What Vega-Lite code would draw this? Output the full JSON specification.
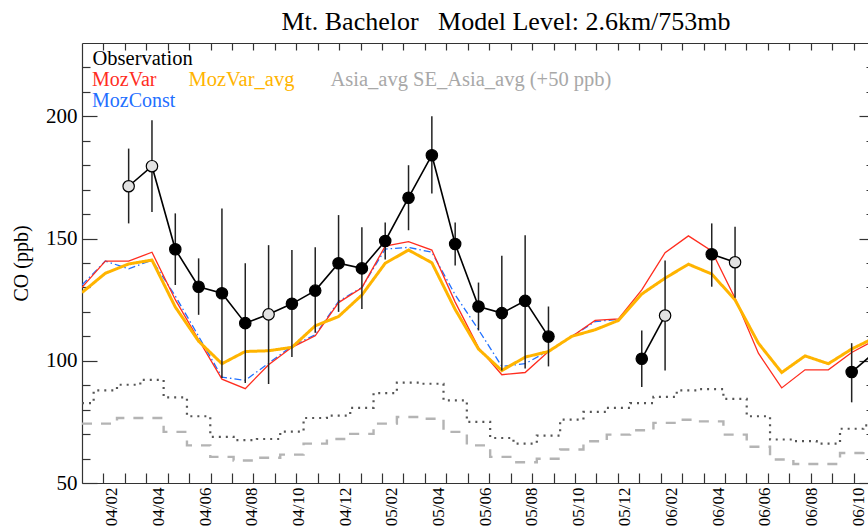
{
  "$schema": "https://vega.github.io/schema/vega-lite/v6.json",
  "width": 786,
  "height": 440,
  "autosize": "none",
  "padding": {"left": 82, "top": 43, "right": 0, "bottom": 44},
  "background": "white",
  "title": {
    "text": "Mt. Bachelor\u00a0\u00a0\u00a0Model Level: 2.6km/753mb",
    "font": "Liberation Serif",
    "fontSize": 26,
    "fontWeight": "normal",
    "color": "black",
    "anchor": "middle",
    "baseline": "alphabetic",
    "offset": 13,
    "dy": 27,
    "dx": 31
  },
  "config": {
    "view": {"stroke": null},
    "axis": {"grid": false, "labelFont": "Liberation Serif", "titleFont": "Liberation Serif", "labelColor": "black", "titleColor": "black", "domainColor": "#333333", "tickColor": "#333333", "domainWidth": 1.2, "tickWidth": 1.2}
  },
  "datasets": {
    "models": [
      {"t": 0, "MozVar": 130.0, "MozConst": 131.0, "MozVar_avg": 127.9, "Asia_avg": 82.7, "SE_Asia_avg": 74.3},
      {"t": 1, "MozVar": 140.8, "MozConst": 140.8, "MozVar_avg": 135.8, "Asia_avg": 87.9, "SE_Asia_avg": 74.3},
      {"t": 2, "MozVar": 140.8, "MozConst": 137.6, "MozVar_avg": 139.6, "Asia_avg": 90.2, "SE_Asia_avg": 76.6},
      {"t": 3, "MozVar": 144.4, "MozConst": 141.2, "MozVar_avg": 141.2, "Asia_avg": 92.2, "SE_Asia_avg": 76.6},
      {"t": 4, "MozVar": 125.0, "MozConst": 126.5, "MozVar_avg": 122.0, "Asia_avg": 85.0, "SE_Asia_avg": 70.9},
      {"t": 5, "MozVar": 108.6, "MozConst": 110.0, "MozVar_avg": 108.0, "Asia_avg": 77.3, "SE_Asia_avg": 65.4},
      {"t": 6, "MozVar": 92.5, "MozConst": 93.3, "MozVar_avg": 98.8, "Asia_avg": 68.9, "SE_Asia_avg": 60.7},
      {"t": 7, "MozVar": 88.6, "MozConst": 92.0, "MozVar_avg": 103.8, "Asia_avg": 67.5, "SE_Asia_avg": 59.2},
      {"t": 8, "MozVar": 98.4, "MozConst": 99.0, "MozVar_avg": 104.1, "Asia_avg": 68.0, "SE_Asia_avg": 60.3},
      {"t": 9, "MozVar": 105.5, "MozConst": 106.0, "MozVar_avg": 105.5, "Asia_avg": 71.0, "SE_Asia_avg": 61.6},
      {"t": 10, "MozVar": 110.2, "MozConst": 110.6, "MozVar_avg": 114.3, "Asia_avg": 76.6, "SE_Asia_avg": 66.1},
      {"t": 11, "MozVar": 123.8, "MozConst": 124.3, "MozVar_avg": 118.1, "Asia_avg": 77.6, "SE_Asia_avg": 68.0},
      {"t": 12, "MozVar": 129.9, "MozConst": 130.0, "MozVar_avg": 126.9, "Asia_avg": 80.7, "SE_Asia_avg": 70.1},
      {"t": 13, "MozVar": 146.9, "MozConst": 145.7, "MozVar_avg": 139.9, "Asia_avg": 86.8, "SE_Asia_avg": 74.3},
      {"t": 14, "MozVar": 148.7, "MozConst": 146.4, "MozVar_avg": 145.3, "Asia_avg": 91.1, "SE_Asia_avg": 77.0},
      {"t": 15, "MozVar": 145.3, "MozConst": 144.4, "MozVar_avg": 140.1, "Asia_avg": 90.6, "SE_Asia_avg": 76.3},
      {"t": 16, "MozVar": 124.0, "MozConst": 127.0, "MozVar_avg": 121.0, "Asia_avg": 83.8, "SE_Asia_avg": 70.9},
      {"t": 17, "MozVar": 105.4, "MozConst": 112.7, "MozVar_avg": 104.8, "Asia_avg": 75.0, "SE_Asia_avg": 65.4},
      {"t": 18, "MozVar": 94.3, "MozConst": 97.7, "MozVar_avg": 96.0, "Asia_avg": 68.4, "SE_Asia_avg": 60.7},
      {"t": 19, "MozVar": 95.2, "MozConst": 98.8, "MozVar_avg": 101.5, "Asia_avg": 66.1, "SE_Asia_avg": 58.5},
      {"t": 20, "MozVar": 103.8, "MozConst": 104.0, "MozVar_avg": 103.8, "Asia_avg": 69.4, "SE_Asia_avg": 59.9},
      {"t": 21, "MozVar": 109.9, "MozConst": 110.0, "MozVar_avg": 110.0, "Asia_avg": 75.9, "SE_Asia_avg": 63.7},
      {"t": 22, "MozVar": 116.5, "MozConst": 116.0, "MozVar_avg": 112.7, "Asia_avg": 79.1, "SE_Asia_avg": 67.1},
      {"t": 23, "MozVar": 117.1, "MozConst": 117.0, "MozVar_avg": 116.5, "Asia_avg": 80.7, "SE_Asia_avg": 69.8},
      {"t": 24, "MozVar": 129.0, "MozConst": null, "MozVar_avg": 127.3, "Asia_avg": 82.7, "SE_Asia_avg": 71.6},
      {"t": 25, "MozVar": 144.2, "MozConst": null, "MozVar_avg": 133.8, "Asia_avg": 85.2, "SE_Asia_avg": 74.6},
      {"t": 26, "MozVar": 151.1, "MozConst": null, "MozVar_avg": 139.5, "Asia_avg": 87.9, "SE_Asia_avg": 75.9},
      {"t": 27, "MozVar": 144.9, "MozConst": null, "MozVar_avg": 135.5, "Asia_avg": 88.4, "SE_Asia_avg": 75.2},
      {"t": 28, "MozVar": 125.6, "MozConst": null, "MozVar_avg": 124.9, "Asia_avg": 84.4, "SE_Asia_avg": 69.8},
      {"t": 29, "MozVar": 103.1, "MozConst": null, "MozVar_avg": 107.2, "Asia_avg": 77.3, "SE_Asia_avg": 64.8},
      {"t": 30, "MozVar": 88.9, "MozConst": null, "MozVar_avg": 95.2, "Asia_avg": 67.8, "SE_Asia_avg": 59.6},
      {"t": 31, "MozVar": 96.3, "MozConst": null, "MozVar_avg": 102.0, "Asia_avg": 67.1, "SE_Asia_avg": 57.8},
      {"t": 32, "MozVar": 96.3, "MozConst": null, "MozVar_avg": 98.8, "Asia_avg": 66.1, "SE_Asia_avg": 57.8},
      {"t": 33, "MozVar": 103.4, "MozConst": null, "MozVar_avg": 104.8, "Asia_avg": 72.2, "SE_Asia_avg": 62.3},
      {"t": 34, "MozVar": 108.5, "MozConst": null, "MozVar_avg": 109.5, "Asia_avg": 73.6, "SE_Asia_avg": 64.4}
    ],
    "obs": [
      {"t": 2, "co": 171.4, "lo": 156.2, "hi": 186.8, "kind": "open", "seg": 1, "src": "Observation"},
      {"t": 3, "co": 179.6, "lo": 160.9, "hi": 198.4, "kind": "open", "seg": 1, "src": "Observation"},
      {"t": 4, "co": 145.6, "lo": 131.0, "hi": 160.3, "kind": "filled", "seg": 1, "src": "Observation"},
      {"t": 5, "co": 130.3, "lo": 118.8, "hi": 141.9, "kind": "filled", "seg": 1, "src": "Observation"},
      {"t": 6, "co": 127.6, "lo": 93.0, "hi": 162.3, "kind": "filled", "seg": 1, "src": "Observation"},
      {"t": 7, "co": 115.4, "lo": 90.9, "hi": 139.9, "kind": "filled", "seg": 1, "src": "Observation"},
      {"t": 8, "co": 119.0, "lo": 90.5, "hi": 147.3, "kind": "open", "seg": 1, "src": "Observation"},
      {"t": 9, "co": 123.3, "lo": 101.5, "hi": 145.3, "kind": "filled", "seg": 1, "src": "Observation"},
      {"t": 10, "co": 128.7, "lo": 111.5, "hi": 146.4, "kind": "filled", "seg": 1, "src": "Observation"},
      {"t": 11, "co": 139.9, "lo": 120.0, "hi": 159.6, "kind": "filled", "seg": 1, "src": "Observation"},
      {"t": 12, "co": 137.8, "lo": 121.2, "hi": 154.6, "kind": "filled", "seg": 1, "src": "Observation"},
      {"t": 13, "co": 149.0, "lo": 141.4, "hi": 156.6, "kind": "filled", "seg": 1, "src": "Observation"},
      {"t": 14, "co": 166.7, "lo": 153.4, "hi": 180.0, "kind": "filled", "seg": 1, "src": "Observation"},
      {"t": 15, "co": 184.1, "lo": 168.4, "hi": 200.0, "kind": "filled", "seg": 1, "src": "Observation"},
      {"t": 16, "co": 147.8, "lo": 139.0, "hi": 156.6, "kind": "filled", "seg": 1, "src": "Observation"},
      {"t": 17, "co": 122.2, "lo": 112.4, "hi": 132.0, "kind": "filled", "seg": 1, "src": "Observation"},
      {"t": 18, "co": 119.5, "lo": 96.0, "hi": 143.0, "kind": "filled", "seg": 1, "src": "Observation"},
      {"t": 19, "co": 124.5, "lo": 96.8, "hi": 151.4, "kind": "filled", "seg": 1, "src": "Observation"},
      {"t": 20, "co": 109.9, "lo": 97.7, "hi": 122.2, "kind": "filled", "seg": 1, "src": "Observation"},
      {"t": 24, "co": 100.8, "lo": 89.3, "hi": 112.4, "kind": "filled", "seg": 2, "src": "Observation"},
      {"t": 25, "co": 118.5, "lo": 96.0, "hi": 141.0, "kind": "open", "seg": 2, "src": "Observation"},
      {"t": 27, "co": 143.6, "lo": 130.3, "hi": 156.2, "kind": "filled", "seg": 3, "src": "Observation"},
      {"t": 28, "co": 140.3, "lo": 125.8, "hi": 154.8, "kind": "open", "seg": 3, "src": "Observation"},
      {"t": 33, "co": 95.4, "lo": 83.0, "hi": 107.2, "kind": "filled", "seg": 4, "src": "Observation"},
      {"t": 34, "co": 103.5, "lo": 91.5, "hi": 115.5, "kind": "filled", "seg": 4, "src": "Observation"}
    ]
  },
  "resolve": {"axis": {"x": "independent", "y": "independent"}},
  "layer": [
    {
      "data": {"name": "models"},
      "transform": [{"fold": ["Asia_avg"], "as": ["series", "co"]}],
      "mark": {"type": "line", "interpolate": "step", "color": "#555555", "strokeWidth": 2.2, "clip": true},
      "encoding": {
        "x": {"field": "t", "type": "quantitative", "scale": {"domain": [0, 33.7], "nice": false, "zero": false},
          "axis": {
            "orient": "bottom",
            "values": [0.9189, 1.8378, 2.7568, 3.6757, 4.5946, 5.5135, 6.4324, 7.3514, 8.2703, 9.1892, 10.1081, 11.027, 11.9459, 12.8649, 13.7838, 14.7027, 15.6216, 16.5405, 17.4595, 18.3784, 19.2973, 20.2162, 21.1351, 22.0541, 22.973, 23.8919, 24.8108, 25.7297, 26.6486, 27.5676, 28.4865, 29.4054, 30.3243, 31.2432, 32.1622, 33.0811, 1.28, 3.28, 5.28, 7.28, 9.28, 11.28, 13.28, 15.28, 17.28, 19.28, 21.28, 23.28, 25.28, 27.28, 29.28, 31.28, 33.28],
            "tickSize": {"condition": {"test": "abs(datum.value - floor(datum.value) - 0.28) < 0.001", "value": 0}, "value": -10},
            "labelExpr": "abs(datum.value - floor(datum.value) - 0.28) < 0.001 ? ['04/02','04/04','04/06','04/08','04/10','04/12','05/02','05/04','05/06','05/08','05/10','05/12','06/02','06/04','06/06','06/08','06/10'][floor(datum.value / 2)] : ''",
            "labelAngle": 270,
            "labelFontSize": 17,
            "labelPadding": 4,
            "labelOverlap": false,
            "labelFlush": false,
            "labelBound": false,
            "title": null
          }
        },
        "y": {"field": "co", "type": "quantitative", "scale": {"domain": [50, 230], "nice": false, "zero": false},
          "axis": {
            "orient": "left",
            "values": [50, 60, 70, 80, 90, 100, 110, 120, 130, 140, 150, 160, 170, 180, 190, 200, 210, 220],
            "tickSize": {"condition": {"test": "datum.value % 50 === 0", "value": -15}, "value": -8},
            "labelExpr": "datum.value % 50 === 0 ? datum.label : ''",
            "labelFontSize": 21,
            "labelPadding": 20,
            "labelOverlap": false,
            "labelFlush": false,
            "title": "CO (ppb)",
            "titleFontSize": 20,
            "titleFontWeight": "normal",
            "titlePadding": 14
          }
        },
        "strokeDash": {"field": "series", "type": "nominal",
          "scale": {"domain": ["MozVar_avg", "Asia_avg"], "range": [[1, 0], [2, 5]]},
          "legend": {
            "orient": "none", "legendX": 86, "legendY": 27, "title": null, "padding": 0,
            "direction": "horizontal", "columns": 2, "gridAlign": "each", "columnPadding": 15,
            "symbolSize": 0, "symbolOpacity": 0, "symbolStrokeWidth": 0, "labelOffset": 0,
            "labelExpr": "datum.value === 'Asia_avg' ? 'Asia_avg SE_Asia_avg (+50 ppb)' : datum.label",
            "labelFont": "Liberation Serif", "labelFontSize": 20.5, "labelLimit": 600,
            "labelColor": {"expr": "datum.value === 'MozVar_avg' ? '#ffb400' : '#a8a8a8'"}
          }
        }
      }
    },
    {
      "data": {"name": "models"},
      "mark": {"type": "line", "interpolate": "step", "color": "#b4b4b4", "strokeWidth": 2.4, "strokeDash": [10, 9], "clip": true},
      "encoding": {
        "x": {"field": "t", "type": "quantitative", "scale": {"domain": [0, 33.7], "nice": false, "zero": false},
          "axis": {
            "orient": "top",
            "values": [0.9189, 1.8378, 2.7568, 3.6757, 4.5946, 5.5135, 6.4324, 7.3514, 8.2703, 9.1892, 10.1081, 11.027, 11.9459, 12.8649, 13.7838, 14.7027, 15.6216, 16.5405, 17.4595, 18.3784, 19.2973, 20.2162, 21.1351, 22.0541, 22.973, 23.8919, 24.8108, 25.7297, 26.6486, 27.5676, 28.4865, 29.4054, 30.3243, 31.2432, 32.1622, 33.0811],
            "tickSize": -7,
            "labels": false,
            "title": null
          }
        },
        "y": {"field": "SE_Asia_avg", "type": "quantitative", "scale": {"domain": [50, 230], "nice": false, "zero": false},
          "axis": {
            "orient": "right",
            "offset": 6,
            "domain": false,
            "values": [50, 60, 70, 80, 90, 100, 110, 120, 130, 140, 150, 160, 170, 180, 190, 200, 210, 220],
            "tickSize": {"condition": {"test": "datum.value % 50 === 0", "value": -15}, "value": -8},
            "labels": false,
            "title": null
          }
        }
      }
    },
    {
      "data": {"name": "models"},
      "transform": [{"fold": ["MozConst"], "as": ["series", "co"]}, {"filter": "datum.co != null"}],
      "mark": {"type": "line", "strokeWidth": 1.3, "strokeDash": [7, 3, 1.5, 3], "clip": true},
      "encoding": {
        "x": {"field": "t", "type": "quantitative", "scale": {"domain": [0, 33.7], "nice": false, "zero": false}, "axis": null},
        "y": {"field": "co", "type": "quantitative", "scale": {"domain": [50, 230], "nice": false, "zero": false}, "axis": null},
        "color": {"field": "series", "type": "nominal",
          "scale": {"domain": ["MozVar", "MozConst"], "range": ["#ff2d1f", "#1f6fff"]},
          "legend": {
            "orient": "none", "legendX": -10, "legendY": 27, "title": null, "padding": 0,
            "direction": "vertical", "rowPadding": 1,
            "symbolSize": 0, "symbolOpacity": 0, "symbolStrokeWidth": 0, "labelOffset": 0,
            "labelFont": "Liberation Serif", "labelFontSize": 20, "labelLimit": 600,
            "encode": {"labels": {"update": {"fill": {"scale": "color", "field": "value"}}}}
          }
        }
      }
    },
    {
      "data": {"name": "models"},
      "transform": [{"fold": ["MozVar"], "as": ["series", "co"]}],
      "mark": {"type": "line", "strokeWidth": 1.3, "clip": true},
      "encoding": {
        "x": {"field": "t", "type": "quantitative", "scale": {"domain": [0, 33.7], "nice": false, "zero": false}, "axis": null},
        "y": {"field": "co", "type": "quantitative", "scale": {"domain": [50, 230], "nice": false, "zero": false}, "axis": null},
        "color": {"field": "series", "type": "nominal", "scale": {"domain": ["MozVar", "MozConst"], "range": ["#ff2d1f", "#1f6fff"]}}
      }
    },
    {
      "data": {"name": "models"},
      "transform": [{"fold": ["MozVar_avg"], "as": ["series", "co"]}],
      "mark": {"type": "line", "color": "#ffb400", "strokeWidth": 3, "clip": true},
      "encoding": {
        "x": {"field": "t", "type": "quantitative", "scale": {"domain": [0, 33.7], "nice": false, "zero": false}, "axis": null},
        "y": {"field": "co", "type": "quantitative", "scale": {"domain": [50, 230], "nice": false, "zero": false}, "axis": null},
        "strokeDash": {"field": "series", "type": "nominal",
          "scale": {"domain": ["MozVar_avg", "Asia_avg"], "range": [[1, 0], [2, 5]]},
          "legend": {
            "orient": "none", "legendX": 86, "legendY": 27, "title": null, "padding": 0,
            "direction": "horizontal", "columns": 2, "gridAlign": "each", "columnPadding": 15,
            "symbolSize": 0, "symbolOpacity": 0, "symbolStrokeWidth": 0, "labelOffset": 0,
            "labelExpr": "datum.value === 'Asia_avg' ? 'Asia_avg SE_Asia_avg (+50 ppb)' : datum.label",
            "labelFont": "Liberation Serif", "labelFontSize": 20.5, "labelLimit": 600,
            "labelColor": {"expr": "datum.value === 'MozVar_avg' ? '#ffb400' : '#a8a8a8'"}
          }
        }
      }
    },
    {
      "data": {"name": "obs"},
      "mark": {"type": "rule", "color": "#222222", "strokeWidth": 1.5, "clip": true},
      "encoding": {
        "x": {"field": "t", "type": "quantitative", "scale": {"domain": [0, 33.7], "nice": false, "zero": false}, "axis": null},
        "y": {"field": "lo", "type": "quantitative", "scale": {"domain": [50, 230], "nice": false, "zero": false}, "axis": null},
        "y2": {"field": "hi"}
      }
    },
    {
      "data": {"name": "obs"},
      "mark": {"type": "line", "color": "black", "strokeWidth": 1.6, "clip": true},
      "encoding": {
        "x": {"field": "t", "type": "quantitative", "scale": {"domain": [0, 33.7], "nice": false, "zero": false}, "axis": null},
        "y": {"field": "co", "type": "quantitative", "scale": {"domain": [50, 230], "nice": false, "zero": false}, "axis": null},
        "detail": {"field": "seg", "type": "nominal"}
      }
    },
    {
      "data": {"name": "obs"},
      "mark": {"type": "point", "filled": true, "size": 130, "stroke": "black", "strokeWidth": 1.2, "opacity": 1, "clip": true},
      "encoding": {
        "x": {"field": "t", "type": "quantitative", "scale": {"domain": [0, 33.7], "nice": false, "zero": false}, "axis": null},
        "y": {"field": "co", "type": "quantitative", "scale": {"domain": [50, 230], "nice": false, "zero": false}, "axis": null},
        "fill": {"field": "kind", "type": "nominal", "scale": {"domain": ["filled", "open"], "range": ["black", "#e2e2e2"]}, "legend": null},
        "shape": {"field": "src", "type": "nominal", "scale": {"domain": ["Observation"], "range": ["circle"]},
          "legend": {
            "orient": "none", "legendX": -10, "legendY": 6, "title": null, "padding": 0,
            "symbolSize": 0, "symbolOpacity": 0, "symbolStrokeWidth": 0, "labelOffset": 0,
            "labelFont": "Liberation Serif", "labelFontSize": 20.5, "labelColor": "black", "labelLimit": 600
          }
        }
      }
    }
  ]
}
